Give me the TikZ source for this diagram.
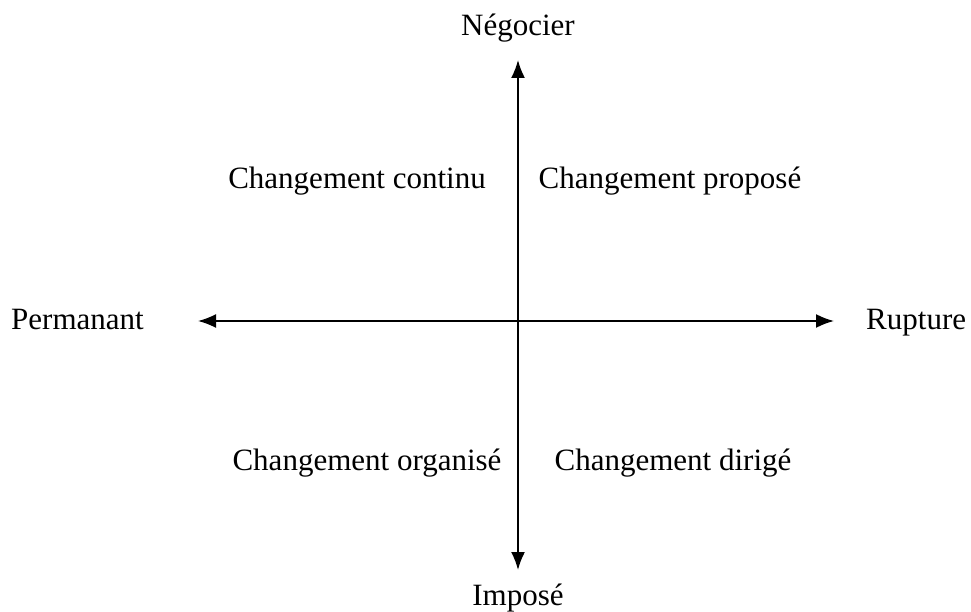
\documentclass[tikz,border=0pt]{standalone}
\usepackage{fontspec}
\setmainfont{Liberation Serif}
\usetikzlibrary{arrows.meta}
\begin{document}
\begin{tikzpicture}[x=1pt,y=-1pt,
  lbl/.style={font=\fontsize{31}{34}\selectfont, inner sep=0pt, anchor=base},
  axis/.style={line width=1.8pt, {Latex[length=18pt,width=14pt]}-{Latex[length=18pt,width=14pt]}}]
\useasboundingbox (0,0) rectangle (971,612);
\coordinate (top) at (518,60);
\coordinate (bot) at (518,570);
\coordinate (left) at (198,321);
\coordinate (right) at (834,321);
\draw[axis] (bot) -- (top);
\draw[axis] (left) -- (right);
\node[lbl] (neg) at (518,36) {Négocier};
\node[lbl] (imp) at (518,605) {Imposé};
\node[lbl, anchor=base west] (perm) at (11,329) {Permanant};
\node[lbl, anchor=base west] (rup) at (866,329) {Rupture};
\node[lbl] (cc) at (357,189) {Changement continu};
\node[lbl] (cp) at (670,189) {Changement proposé};
\node[lbl] (co) at (367,470) {Changement organisé};
\node[lbl] (cd) at (673,470) {Changement dirigé};
\end{tikzpicture}
\end{document}
